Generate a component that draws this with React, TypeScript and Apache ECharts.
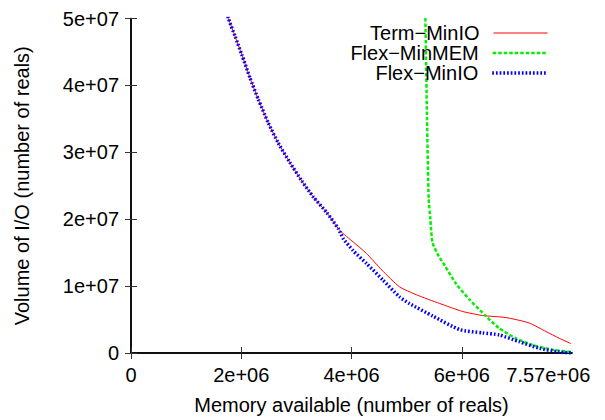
import React, { useEffect, useRef } from "react";
import * as echarts from "echarts";

// Memory available (number of reals) / Volume of I/O (number of reals)
const termMem = [1.70e6, 1.768e6, 1.89e6, 2.01e6, 2.16e6, 2.31e6, 2.49e6, 2.67e6, 2.88e6, 3.10e6, 3.31e6, 3.55e6, 3.79e6, 4.03e6, 4.27e6, 4.55e6, 4.87e6, 5.18e6, 5.60e6, 6.02e6, 6.38e6, 6.80e6, 7.22e6, 7.53e6, 7.77e6, 7.98e6];
const termIO = [5.25e7, 5.0e7, 4.73e7, 4.46e7, 4.11e7, 3.79e7, 3.44e7, 3.14e7, 2.85e7, 2.57e7, 2.33e7, 2.10e7, 1.83e7, 1.66e7, 1.49e7, 1.24e7, 0.99e7, 0.87e7, 0.74e7, 0.62e7, 0.56e7, 0.53e7, 0.45e7, 0.32e7, 0.22e7, 0.14e7];

const flexMemMem = [5.33e6, 5.34e6, 5.37e6, 5.40e6, 5.43e6, 5.47e6, 5.58e6, 5.69e6, 5.90e6, 6.14e6, 6.44e6, 6.68e6, 6.98e6, 7.28e6, 7.65e6, 7.98e6];
const flexMemIO = [5.5e7, 5.0e7, 3.5e7, 2.30e7, 2.0e7, 1.65e7, 1.45e7, 1.31e7, 1.03e7, 0.80e7, 0.55e7, 0.37e7, 0.22e7, 0.12e7, 0.05e7, 0.015e7];

const flexIOMem = [1.70e6, 1.768e6, 1.89e6, 2.01e6, 2.16e6, 2.31e6, 2.49e6, 2.67e6, 2.88e6, 3.10e6, 3.31e6, 3.55e6, 3.76e6, 3.85e6, 4.03e6, 4.27e6, 4.57e6, 4.87e6, 5.05e6, 5.48e6, 5.96e6, 6.38e6, 6.68e6, 7.04e6, 7.41e6, 7.77e6, 7.98e6];
const flexIOIO = [5.25e7, 5.0e7, 4.73e7, 4.46e7, 4.11e7, 3.79e7, 3.44e7, 3.14e7, 2.85e7, 2.57e7, 2.33e7, 2.10e7, 1.86e7, 1.71e7, 1.53e7, 1.34e7, 1.09e7, 0.84e7, 0.74e7, 0.55e7, 0.35e7, 0.30e7, 0.27e7, 0.17e7, 0.07e7, 0.015e7, 0.0];

const seriesNames = ["Term\u2212MinIO", "Flex\u2212MinMEM", "Flex\u2212MinIO"];

const xTickValues = [0, 2e6, 4e6, 6e6];
const xLabelValues = [0, 2e6, 4e6, 6e6, 7.57e6];
const xLabelTexts = ["0", "2e+06", "4e+06", "6e+06", "7.57e+06"];
const yTickValues = [0, 1e7, 2e7, 3e7, 4e7, 5e7];
const yLabelTexts = ["0", "1e+07", "2e+07", "3e+07", "4e+07", "5e+07"];

const zip = (xs: number[], ys: number[]) => xs.map((x, i) => [x, ys[i]]);

const FONT = "Liberation Sans, Arial, Helvetica, sans-serif";

export default function App() {
  const ref = useRef<HTMLDivElement>(null);
  useEffect(() => {
    if (!ref.current) return;
    const chart = echarts.init(ref.current, undefined, { renderer: "svg" });
    const tickStyle = { color: "#333", width: 1 };
    const axisLineStyle = { color: "#000", width: 1.5 };
    const legendCommon = {
      orient: "horizontal",
      right: 57,
      align: "right",
      padding: 0,
      itemWidth: 54,
      itemHeight: 14,
      itemStyle: { opacity: 0 },
      lineStyle: { width: "inherit", type: "inherit" },
      textStyle: { fontFamily: FONT, fontSize: 20, color: "#000", lineHeight: 20, padding: [0, 9, 0, 0] },
      selectedMode: false,
    };
    chart.setOption({
      animation: false,
      textStyle: { fontFamily: FONT },
      grid: { left: 131, right: 33, top: 18.5, bottom: 65, containLabel: false },
      legend: [
        { ...legendCommon, top: 23, data: [seriesNames[0]] },
        { ...legendCommon, top: 43, data: [seriesNames[1]] },
        { ...legendCommon, top: 63, data: [seriesNames[2]] },
      ],
      xAxis: [
        {
          type: "value",
          position: "bottom",
          min: 0,
          max: 8e6,
          name: "Memory available (number of reals)",
          nameLocation: "middle",
          nameGap: 42,
          nameTextStyle: { fontFamily: FONT, fontSize: 20, color: "#000" },
          axisLine: { show: true, lineStyle: axisLineStyle },
          axisTick: { show: true, inside: true, length: 6, lineStyle: tickStyle, customValues: xTickValues },
          axisLabel: {
            show: true,
            margin: 12,
            fontFamily: FONT,
            fontSize: 20,
            color: "#000",
            customValues: xLabelValues,
            formatter: (v: number) => {
              const i = xLabelValues.findIndex((t) => Math.abs(t - v) < 1);
              return i >= 0 ? xLabelTexts[i] : "";
            },
          },
          splitLine: { show: false },
        },
        {
          type: "value",
          position: "top",
          min: 0,
          max: 8e6,
          axisLine: { show: true, lineStyle: axisLineStyle },
          axisTick: { show: true, inside: true, length: 6, lineStyle: tickStyle, customValues: xTickValues },
          axisLabel: { show: false },
          splitLine: { show: false },
        },
      ],
      yAxis: [
        {
          type: "value",
          position: "left",
          min: 0,
          max: 5e7,
          interval: 1e7,
          name: "Volume of I/O (number of reals)",
          nameLocation: "middle",
          nameGap: 99,
          nameRotate: 90,
          nameTextStyle: { fontFamily: FONT, fontSize: 20, color: "#000" },
          axisLine: { show: true, lineStyle: axisLineStyle },
          axisTick: { show: true, inside: true, length: 6, lineStyle: tickStyle },
          axisLabel: {
            show: true,
            margin: 12,
            fontFamily: FONT,
            fontSize: 20,
            color: "#000",
            formatter: (v: number) => {
              const i = yTickValues.findIndex((t) => Math.abs(t - v) < 1);
              return i >= 0 ? yLabelTexts[i] : "";
            },
          },
          splitLine: { show: false },
        },
        {
          type: "value",
          position: "right",
          min: 0,
          max: 5e7,
          interval: 1e7,
          axisLine: { show: true, lineStyle: axisLineStyle },
          axisTick: { show: true, inside: true, length: 6, lineStyle: tickStyle },
          axisLabel: { show: false },
          splitLine: { show: false },
        },
      ],
      series: [
        {
          name: seriesNames[0],
          type: "line",
          data: zip(termMem, termIO),
          showSymbol: false,
          symbol: "none",
          smooth: 0.2,
          clip: true,
          lineStyle: { color: "#ff0000", width: 1, type: "solid" },
          itemStyle: { color: "#ff0000" },
        },
        {
          name: seriesNames[1],
          type: "line",
          data: zip(flexMemMem, flexMemIO),
          showSymbol: false,
          symbol: "none",
          smooth: 0.2,
          clip: true,
          lineStyle: { color: "#00f000", width: 2.5, type: [3.5, 2] },
          itemStyle: { color: "#00f000" },
        },
        {
          name: seriesNames[2],
          type: "line",
          data: zip(flexIOMem, flexIOIO),
          showSymbol: false,
          symbol: "none",
          smooth: 0.2,
          clip: true,
          lineStyle: { color: "#0000ff", width: 3.5, type: [1.7, 2] },
          itemStyle: { color: "#0000ff" },
        },
      ],
    });
    return () => chart.dispose();
  }, []);
  return <div ref={ref} style={{ width: 605, height: 420, position: "absolute", left: 0, top: 0 }} />;
}
